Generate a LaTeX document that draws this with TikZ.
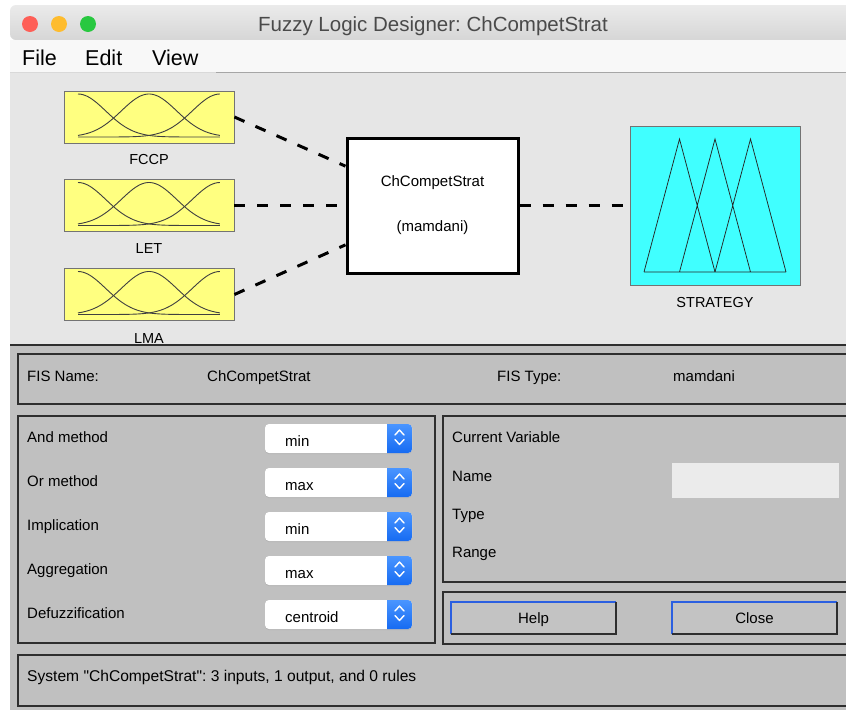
\documentclass[tikz,border=0pt]{standalone}
\usepackage{fontspec}
\setmainfont{Liberation Sans}
\newfontfamily\plainfont{Liberation Sans}
\usepackage{graphicx}
\usetikzlibrary{calc}
\frenchspacing
\definecolor{topbg}{HTML}{E6E6E6}
\definecolor{botbg}{HTML}{C0C0C0}
\definecolor{inyellow}{HTML}{FFFF80}
\definecolor{outcyan}{HTML}{40FFFF}
\definecolor{paneldark}{HTML}{2E2E2E}
\definecolor{btnblue}{HTML}{2B5FE0}
\definecolor{popbluetop}{HTML}{4A95FF}
\definecolor{popbluebot}{HTML}{166BF2}
\definecolor{tbtop}{HTML}{EBEBEB}
\definecolor{tbbot}{HTML}{D6D6D6}
\definecolor{menubg}{HTML}{F8F8F8}
\definecolor{titlegray}{HTML}{4A4A4A}
\definecolor{editbg}{HTML}{EBEBEB}
\definecolor{tlred}{HTML}{FE5F57}
\definecolor{tlyellow}{HTML}{FEBC2E}
\definecolor{tlgreen}{HTML}{28C840}
\tikzset{
  txt/.style={inner sep=0pt, font=\fontsize{15}{18}\selectfont},
  dlabel/.style={inner sep=0pt, font=\fontsize{14.5}{17}\selectfont, anchor=base},
  inbox/.style={draw=black!55, fill=inyellow, line width=0.8pt, minimum width=170pt, minimum height=52pt, inner sep=0pt},
  fisbox/.style={draw=black, fill=white, line width=3pt, minimum width=171pt, minimum height=135pt, inner sep=0pt, align=center, font=\fontsize{15}{18}\selectfont},
  outbox/.style={draw=black!55, fill=outcyan, line width=0.8pt, minimum width=170pt, minimum height=159pt, inner sep=0pt},
  conn/.style={line width=3pt, dash pattern=on 11pt off 12pt, black},
  mfline/.style={line width=0.9pt, black!75},
  panel/.style={draw=paneldark, line width=1.5pt},
  btn/.style={fill=botbg!95!white}
}
\newcommand\mfcurves[1]{%
  \draw[mfline] plot[domain=0:1,samples=60] ({78+142*\x},{#1+46-43*exp(-(\x)^2/0.076)});
  \draw[mfline] plot[domain=0:1,samples=60] ({78+142*\x},{#1+46-43*exp(-(\x-0.5)^2/0.076)});
  \draw[mfline] plot[domain=0:1,samples=60] ({78+142*\x},{#1+46-43*exp(-(\x-1)^2/0.076)});
}
\newcommand\popmenu[3]{%
  \fill[black!30, rounded corners=4pt] (265,#2-14) rectangle (412,#2+15.5);
  \fill[white, rounded corners=4pt] (265,#2-14.5) rectangle (412,#2+14.5);
  \begin{scope}
    \clip[rounded corners=4pt] (265,#2-14.5) rectangle (412,#2+14.5);
    \shade[top color=popbluetop, bottom color=popbluebot] (387,#2-14.5) rectangle (412,#2+14.5);
  \end{scope}
  \draw[white, line width=1.4pt, line cap=round, line join=round] (395,#2-3.5) -- (399.5,#2-8.5) -- (404,#2-3.5);
  \draw[white, line width=1.4pt, line cap=round, line join=round] (395,#2+1) -- (399.5,#2+6) -- (404,#2+1);
  \node[txt, anchor=base west] (#1) at (285,#2+8) {#3};
}
\newcommand\guibutton[5]{% name, x1, x2, text-x, text
  \fill[btn] (#2,602) rectangle (#3,634);
  \draw[btnblue, line width=1.2pt] (#2,634) -- (#2,602) -- (#3,602);
  \draw[paneldark, line width=2pt] (#2,634) -- (#3,634) -- (#3,602);
  \node[txt, anchor=base] (#1) at (#4,623) {#5};
}
\begin{document}
\begin{tikzpicture}[x=1pt,y=-1pt]
\useasboundingbox (0,0) rectangle (846,710);
\fill[white] (0,0) rectangle (846,710);
% title bar
\shade[top color=tbtop, bottom color=tbbot, rounded corners=6pt] (10,40) -- (10,5) -- (860,5) -- (860,40) -- cycle;
\draw[black!22, line width=0.8pt] (10,40) -- (846,40);
\fill[tlred] (30,24) circle (8);
\fill[tlyellow] (59,24) circle (8);
\fill[tlgreen] (88,24) circle (8);
\node[inner sep=0pt, anchor=base, text=titlegray, font=\fontsize{20.5}{24}\selectfont] (title) at (433,31) {Fuzzy Logic Designer: ChCompetStrat};
% menu bar
\fill[menubg] (10,40.4) rectangle (846,72);
\node[inner sep=0pt, anchor=base west, font=\fontsize{21.5}{25}\selectfont] (mfile) at (22,65) {File};
\node[inner sep=0pt, anchor=base west, font=\fontsize{21.5}{25}\selectfont] (medit) at (85,65) {Edit};
\node[inner sep=0pt, anchor=base west, font=\fontsize{21.5}{25}\selectfont] (mview) at (152,65) {View};
\draw[black!15, line width=1pt] (10,72) -- (216,72);
\draw[black!35, line width=1pt] (216,72) -- (846,72);
% top diagram area
\fill[topbg] (10,72.5) rectangle (846,345);
% input boxes
\node[inbox] (fccp) at (149,117) {};
\node[inbox] (let) at (149,205.5) {};
\node[inbox] (lma) at (149,294.5) {};
\mfcurves{91}
\mfcurves{179.5}
\mfcurves{268.5}
\node[dlabel] (lfccp) at (149,164.5) {FCCP};
\node[dlabel] (llet) at (149,253.5) {LET};
\node[dlabel] (llma) at (149,343) {LMA};
% FIS box
\node[fisbox] (fis) at (432.5,205.5) {ChCompetStrat\\[27pt](mamdani)};
% output box
\node[outbox] (out) at (715,205.5) {};
\draw[line width=0.75pt, black!85, line join=miter]
  (644,272) -- (679.5,139) -- (715,272)
  (679.5,272) -- (715,139) -- (750.5,272)
  (715,272) -- (750.5,139) -- (786,272)
  (644,272) -- (786,272);
\node[dlabel] (lstrat) at (715,307.5) {STRATEGY};
% connectors
\draw[conn] (fccp.east) -- ($(fis.west)!0.57!(fis.north west)$);
\draw[conn] (let.east) -- (fis.west);
\draw[conn] (lma.east) -- ($(fis.west)!0.57!(fis.south west)$);
\draw[conn] (fis.east) -- (out.west);
% bottom area
\fill[botbg] (10,345) rectangle (846,710);
\draw[paneldark, line width=2pt] (10,345) -- (846,345);
% FIS name panel
\draw[panel] (18,354) rectangle (852,404);
\node[txt, anchor=base west] (fisnamel) at (27,381) {FIS Name:};
\node[txt, anchor=base west] (fisname) at (207,381) {ChCompetStrat};
\node[txt, anchor=base west] (fistypel) at (497,381) {FIS Type:};
\node[txt, anchor=base west] (fistype) at (673,381) {mamdani};
% methods panel
\draw[panel] (18,416) rectangle (435,643);
\node[txt, anchor=base west] (andl) at (27,442.5) {And method};
\node[txt, anchor=base west] (orl) at (27,486.5) {Or method};
\node[txt, anchor=base west] (impl) at (27,530.5) {Implication};
\node[txt, anchor=base west] (aggl) at (27,574.5) {Aggregation};
\node[txt, anchor=base west] (defl) at (27,618.5) {Defuzzification};
\popmenu{andv}{438.5}{min}
\popmenu{orv}{482.5}{max}
\popmenu{impv}{526.5}{min}
\popmenu{aggv}{570.5}{max}
\popmenu{defv}{614.5}{centroid}
% current variable panel
\draw[panel] (443,416) rectangle (852,582);
\node[txt, anchor=base west] (curvar) at (452,442) {Current Variable};
\node[txt, anchor=base west] (namel) at (452,481) {Name};
\node[txt, anchor=base west] (typel) at (452,519) {Type};
\node[txt, anchor=base west] (rangel) at (452,557) {Range};
\filldraw[fill=editbg, draw=white!92!black, line width=1pt] (672,463) rectangle (838,497);
% buttons panel
\draw[panel] (443,592) rectangle (852,644);
\guibutton{help}{451}{616}{533.5}{Help}
\guibutton{close}{672}{837}{754.5}{Close}
% status panel
\draw[panel] (18,655) rectangle (852,706);
\node[txt, anchor=base west, font=\plainfont\fontsize{15.6}{18}\selectfont] (status) at (27,681) {System "ChCompetStrat": 3 inputs, 1 output, and 0 rules};
\end{tikzpicture}
\end{document}
